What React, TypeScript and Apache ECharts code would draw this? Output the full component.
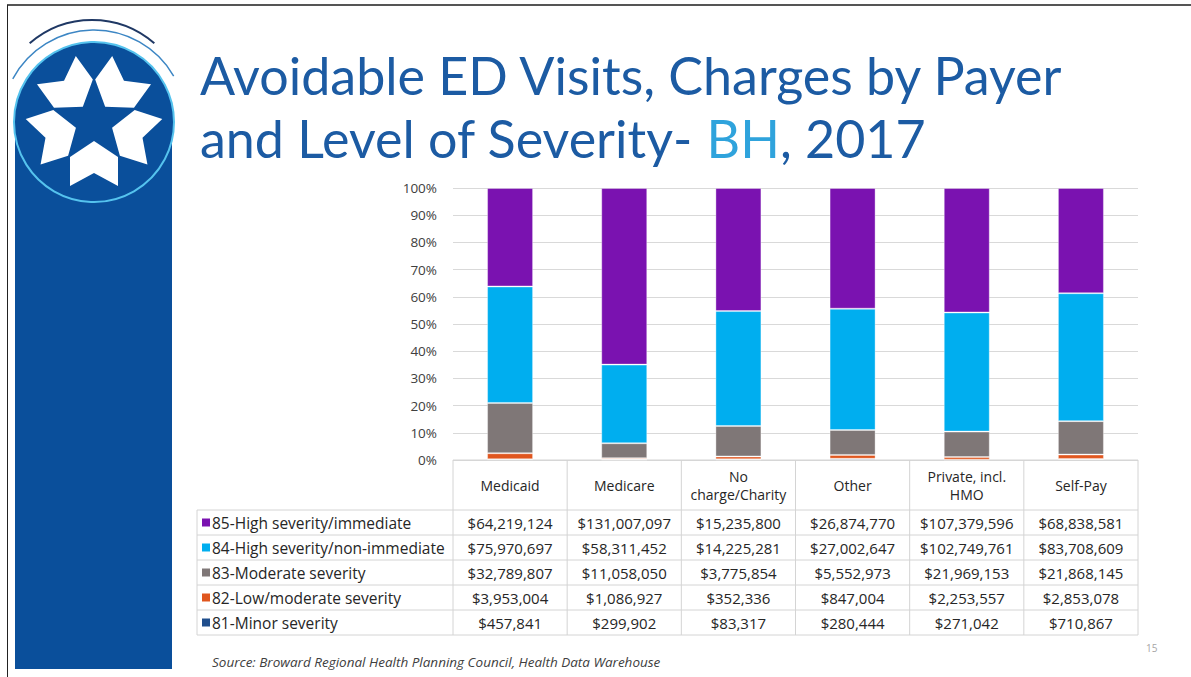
import React, { useEffect, useRef } from 'react';
import * as echarts from 'echarts';

const categories = ['Medicaid', 'Medicare', 'No charge/Charity', 'Other', 'Private, incl. HMO', 'Self-Pay'];
const headerLabels = ['Medicaid', 'Medicare', 'No\ncharge/Charity', 'Other', 'Private, incl.\nHMO', 'Self-Pay'];
const severityNames = [
  '85-High severity/immediate',
  '84-High severity/non-immediate',
  '83-Moderate severity',
  '82-Low/moderate severity',
  '81-Minor severity',
];
const sev85 = [64219124, 131007097, 15235800, 26874770, 107379596, 68838581];
const sev84 = [75970697, 58311452, 14225281, 27002647, 102749761, 83708609];
const sev83 = [32789807, 11058050, 3775854, 5552973, 21969153, 21868145];
const sev82 = [3953004, 1086927, 352336, 847004, 2253557, 2853078];
const sev81 = [457841, 299902, 83317, 280444, 271042, 710867];
const severityColors = ['#7A12B0', '#00AEEF', '#7F7777', '#E0561E', '#1F4E8C'];
const titleLine1 = 'Avoidable ED Visits, Charges by Payer';
const titleLine2a = 'and Level of Severity- ';
const titleLine2b = 'BH';
const titleLine2c = ', 2017';
const sourceText = 'Source: Broward Regional Health Planning Council, Health Data Warehouse';
const pageNumber = '15';

const FONT = "'Open Sans', 'Noto Sans', sans-serif";
const TITLE_FONT = "Lato, 'Open Sans', sans-serif";

export default function App() {
  const ref = useRef<HTMLDivElement>(null);
  useEffect(() => {
    if (!ref.current) return;
    const chart = echarts.init(ref.current, undefined, { renderer: 'svg' });
    const rows = [sev85, sev84, sev83, sev82, sev81];
    const totals = categories.map((_, i) => rows.reduce((s, r) => s + r[i], 0));
    const pct = (arr: number[]) => arr.map((v, i) => (v / totals[i]) * 100);
    const stackOrder = [4, 3, 2, 1, 0];
    const series = stackOrder.map((idx) => ({
      name: severityNames[idx],
      type: 'bar',
      stack: 'total',
      barWidth: 46,
      data: pct(rows[idx]),
      itemStyle: {
        color: severityColors[idx],
        borderColor: 'rgba(255,255,255,0.35)',
        borderWidth: 1,
      },
    }));

    chart.setOption({
      animation: false,
      backgroundColor: '#ffffff',
      grid: { left: 453, right: 53, top: 188, bottom: 217 },
      xAxis: {
        type: 'category',
        data: categories,
        axisLabel: { show: false },
        axisTick: { show: false },
        axisLine: { show: false },
      },
      yAxis: {
        type: 'value',
        min: 0,
        max: 100,
        interval: 10,
        axisLabel: {
          formatter: '{value}%',
          fontFamily: FONT,
          fontSize: 13.5,
          color: '#404040',
          margin: 16,
        },
        axisLine: { show: false },
        axisTick: { show: false },
        splitLine: { lineStyle: { color: '#D9D9D9', width: 1 } },
      },
      series,
    });

    const centers = categories.map((c) => chart.convertToPixel({ xAxisIndex: 0 }, c) as number);
    const colW = centers.length > 1 ? centers[1] - centers[0] : 114;
    const tableTop = chart.convertToPixel({ yAxisIndex: 0 }, 0) as number;
    const tableLeft = centers[0] - colW / 2;
    const tableRight = centers[centers.length - 1] + colW / 2;
    const legendLeft = 197;
    const headerH = 50;
    const rowH = 25;
    const dataTop = tableTop + headerH;
    const tableBottom = dataTop + rowH * severityNames.length;
    const lineColor = '#D4D4D4';
    const textColor = '#262626';

    const g: any[] = [];
    g.push({ type: 'line', shape: { x1: 7, y1: 5, x2: 1191, y2: 5 }, style: { stroke: '#555555', lineWidth: 2 } });
    g.push({ type: 'line', shape: { x1: 7.5, y1: 5, x2: 7.5, y2: 677 }, style: { stroke: '#222222', lineWidth: 1 } });

    const lcx = 94, lcy = 122;
    g.push({ type: 'rect', shape: { x: 15, y: lcy, width: 157, height: 669 - lcy }, style: { fill: '#0A4F9B' } });
    g.push({ type: 'circle', shape: { cx: lcx, cy: lcy, r: 80 }, style: { fill: '#0A4F9B', stroke: '#55C3EE', lineWidth: 2 } });
    g.push({
      type: 'arc',
      shape: { cx: 92, cy: 115, r: 95, startAngle: (-131 * Math.PI) / 180, endAngle: (-49 * Math.PI) / 180, clockwise: true },
      style: { stroke: '#1F3864', lineWidth: 2, fill: 'none' },
    });
    g.push({
      type: 'arc',
      shape: { cx: lcx, cy: lcy, r: 92, startAngle: (-152 * Math.PI) / 180, endAngle: (-30 * Math.PI) / 180, clockwise: true },
      style: { stroke: '#3C86C4', lineWidth: 1.5, fill: 'none' },
    });
    const starLocal = [[19, 0], [35, 24], [64, 24], [51, 0], [64, -24], [35, -24]];
    for (let k = 0; k < 5; k++) {
      const th = ((90 + 72 * k) * Math.PI) / 180;
      const ux = Math.cos(th), uy = Math.sin(th);
      const vx = -uy, vy = ux;
      const pts = starLocal.map(([u, v]) => [lcx + u * ux + v * vx, lcy + u * uy + v * vy]);
      g.push({ type: 'polygon', shape: { points: pts }, style: { fill: '#FFFFFF' } });
    }

    g.push({
      type: 'text',
      x: 200,
      y: 43,
      style: {
        text:
          '{a|' + titleLine1 + '}\n{a|' + titleLine2a + '}{b|' + titleLine2b + '}{a|' + titleLine2c + '}',
        fontFamily: TITLE_FONT,
        fontSize: 52,
        lineHeight: 63,
        fill: '#1C5BA3',
        textVerticalAlign: 'top',
        rich: {
          a: { fontFamily: TITLE_FONT, fontSize: 52, lineHeight: 63, fill: '#1C5BA3' },
          b: { fontFamily: TITLE_FONT, fontSize: 52, lineHeight: 63, fill: '#2FA3DC' },
        },
      },
    });

    g.push({ type: 'line', shape: { x1: tableLeft, y1: tableTop, x2: tableRight, y2: tableTop }, style: { stroke: lineColor, lineWidth: 1 } });
    for (let r = 0; r <= severityNames.length; r++) {
      const y = dataTop + r * rowH;
      g.push({ type: 'line', shape: { x1: legendLeft, y1: y, x2: tableRight, y2: y }, style: { stroke: lineColor, lineWidth: 1 } });
    }
    g.push({ type: 'line', shape: { x1: legendLeft, y1: dataTop, x2: legendLeft, y2: tableBottom }, style: { stroke: lineColor, lineWidth: 1 } });
    for (let c = 0; c <= categories.length; c++) {
      const x = tableLeft + c * colW;
      g.push({ type: 'line', shape: { x1: x, y1: tableTop, x2: x, y2: tableBottom }, style: { stroke: lineColor, lineWidth: 1 } });
    }
    headerLabels.forEach((h, i) => {
      g.push({
        type: 'text',
        x: centers[i],
        y: tableTop + headerH / 2,
        style: {
          text: h,
          fontFamily: FONT,
          fontSize: 14,
          lineHeight: 18,
          fill: textColor,
          textAlign: 'center',
          textVerticalAlign: 'middle',
        },
      });
    });
    severityNames.forEach((name, r) => {
      const cy = dataTop + r * rowH + rowH / 2;
      g.push({ type: 'rect', shape: { x: 202, y: cy - 4, width: 8, height: 8 }, style: { fill: severityColors[r] } });
      g.push({
        type: 'text',
        x: 212,
        y: cy,
        style: { text: name, fontFamily: FONT, fontSize: 15.5, fill: textColor, textVerticalAlign: 'middle' },
      });
      rows[r].forEach((v, i) => {
        g.push({
          type: 'text',
          x: centers[i],
          y: cy,
          style: {
            text: '$' + v.toLocaleString('en-US'),
            fontFamily: FONT,
            fontSize: 15,
            fill: textColor,
            textAlign: 'center',
            textVerticalAlign: 'middle',
          },
        });
      });
    });
    g.push({
      type: 'text',
      x: 212,
      y: 662,
      style: { text: sourceText, fontFamily: FONT, fontSize: 13.5, fontStyle: 'italic', fill: '#404040', textVerticalAlign: 'middle' },
    });
    g.push({
      type: 'text',
      x: 1146,
      y: 648,
      style: { text: pageNumber, fontFamily: FONT, fontSize: 10, fill: '#A6A6A6', textVerticalAlign: 'middle' },
    });

    chart.setOption({ graphic: g });
    return () => chart.dispose();
  }, []);
  return <div ref={ref} style={{ position: 'absolute', left: 0, top: 0, width: 1191, height: 677 }} />;
}
